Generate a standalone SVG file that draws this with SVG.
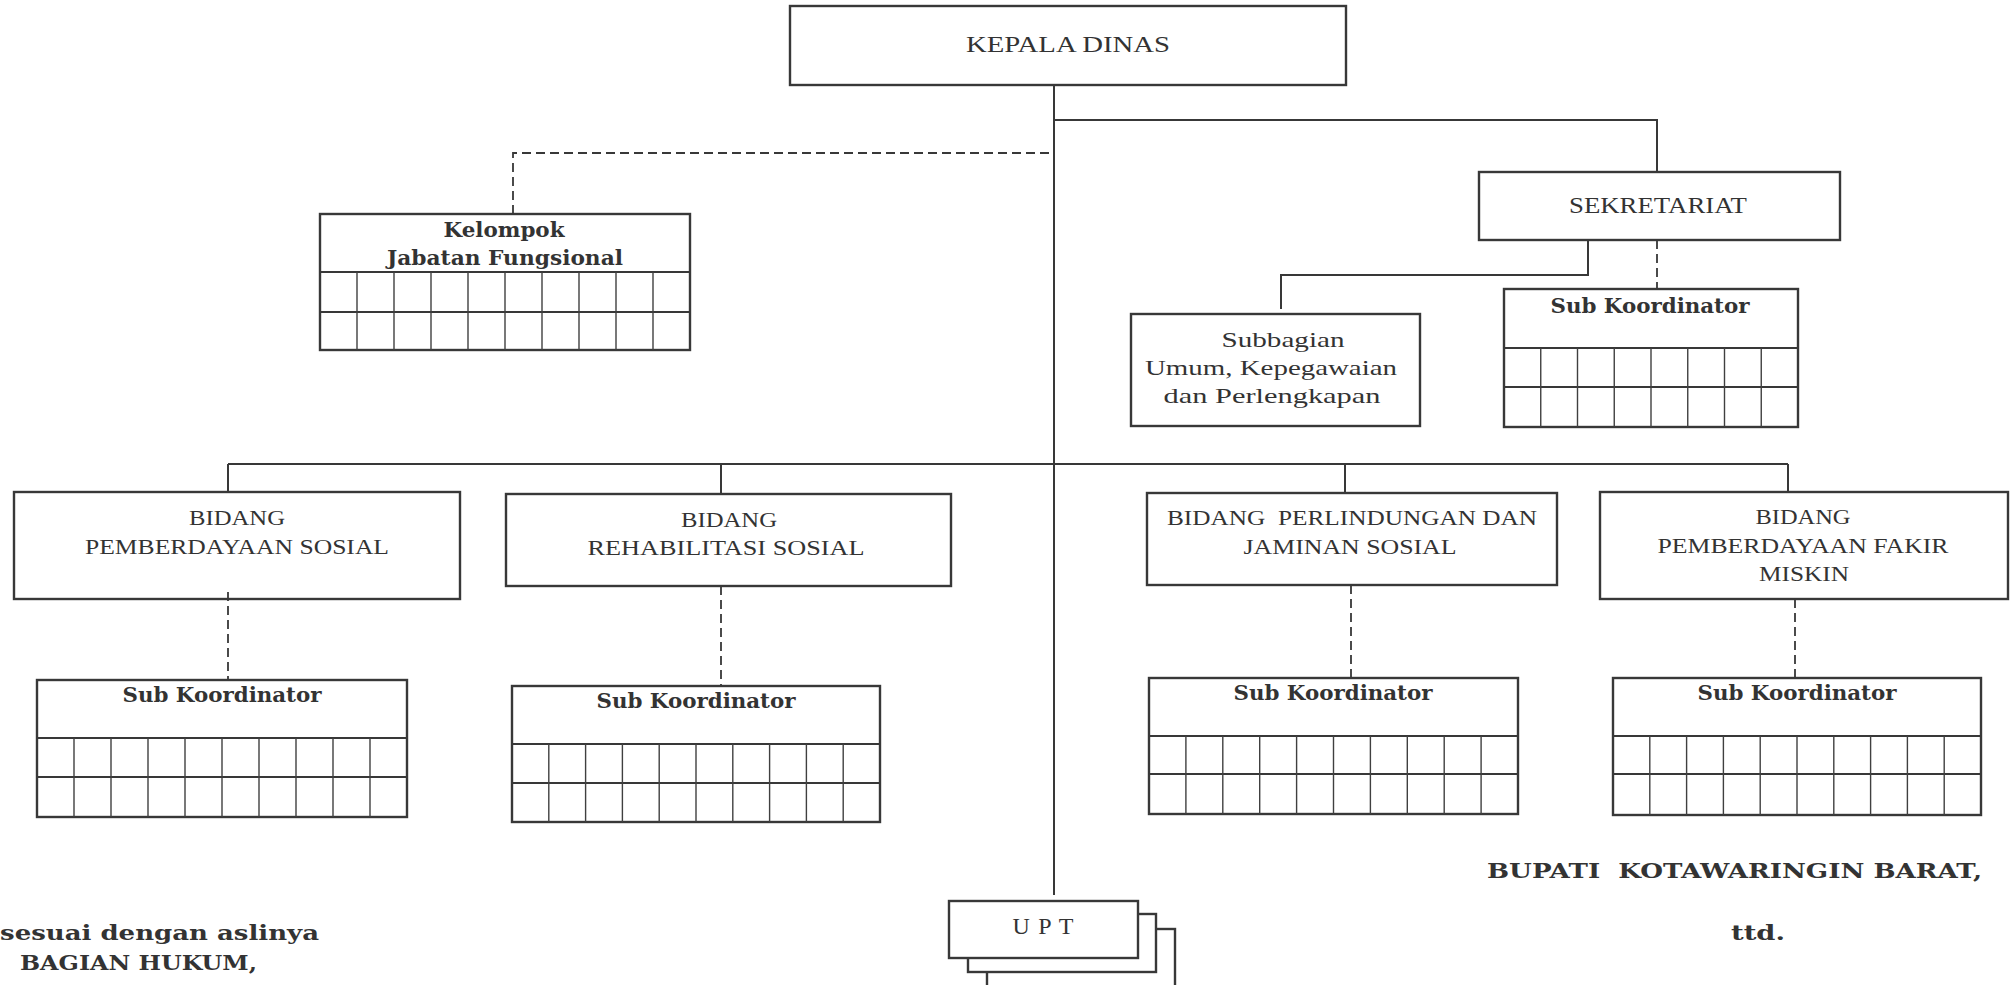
<svg xmlns="http://www.w3.org/2000/svg" width="2010" height="985" viewBox="0 0 2010 985">
<style>
.box{fill:#fff;stroke:#383838;stroke-width:2.4}
.grid{fill:none;stroke:#404040;stroke-width:1.4}
.div{fill:none;stroke:#383838;stroke-width:2}
.ln{fill:none;stroke:#383838;stroke-width:2}
.dash{fill:none;stroke:#383838;stroke-width:1.8;stroke-dasharray:9 5}
.t{font-family:"Liberation Serif","Times New Roman",serif;font-size:22px;fill:#333;text-anchor:middle;white-space:pre}
.big{font-size:24px}
.b{font-family:"DejaVu Serif","Liberation Serif",serif;font-weight:bold;font-size:20px;fill:#333;text-anchor:middle;white-space:pre}
.bs{font-family:"DejaVu Serif","Liberation Serif",serif;font-weight:bold;font-size:21px;fill:#333;white-space:pre}
</style>
<rect width="2010" height="985" fill="#fff"/>

<g id="kepala-dinas">
<rect class="box" x="790" y="6" width="556" height="79"/>
<text class="t big" x="1068" y="52" textLength="204" lengthAdjust="spacingAndGlyphs">KEPALA DINAS</text>
</g>

<g id="kelompok-jabatan-fungsional">
<rect class="box" x="320" y="214" width="370" height="136"/>
<path class="div" d="M320,272 H690 M320,312 H690"/>
<path class="grid" d="M357,272V350M394,272V350M431,272V350M468,272V350M505,272V350M542,272V350M579,272V350M616,272V350M653,272V350"/>
<text class="b" x="504" y="237" textLength="121" lengthAdjust="spacingAndGlyphs">Kelompok</text>
<text class="b" x="505" y="265" textLength="236" lengthAdjust="spacingAndGlyphs">Jabatan Fungsional</text>
</g>

<g id="sekretariat">
<rect class="box" x="1479" y="172" width="361" height="68"/>
<text class="t big" x="1658" y="213" textLength="178" lengthAdjust="spacingAndGlyphs">SEKRETARIAT</text>
</g>

<g id="subbagian-umum">
<rect class="box" x="1131" y="314" width="289" height="112"/>
<text class="t" x="1283" y="347" textLength="123" lengthAdjust="spacingAndGlyphs">Subbagian</text>
<text class="t" x="1271" y="375" textLength="252" lengthAdjust="spacingAndGlyphs">Umum, Kepegawaian</text>
<text class="t" x="1272" y="403" textLength="217" lengthAdjust="spacingAndGlyphs">dan Perlengkapan</text>
</g>

<g id="sub-koordinator-sekretariat">
<rect class="box" x="1504" y="289" width="294" height="138"/>
<path class="div" d="M1504,348 H1798 M1504,387 H1798"/>
<path class="grid" d="M1540.75,348V427M1577.5,348V427M1614.25,348V427M1651,348V427M1687.75,348V427M1724.5,348V427M1761.25,348V427"/>
<text class="b" x="1650" y="313" textLength="199" lengthAdjust="spacingAndGlyphs">Sub Koordinator</text>
</g>

<g id="bidang-pemberdayaan-sosial">
<rect class="box" x="14" y="492" width="446" height="107"/>
<text class="t" x="237" y="525" textLength="96" lengthAdjust="spacingAndGlyphs">BIDANG</text>
<text class="t" x="237" y="554" textLength="304" lengthAdjust="spacingAndGlyphs">PEMBERDAYAAN SOSIAL</text>
</g>

<g id="bidang-rehabilitasi-sosial">
<rect class="box" x="506" y="494" width="445" height="92"/>
<text class="t" x="729" y="527" textLength="96" lengthAdjust="spacingAndGlyphs">BIDANG</text>
<text class="t" x="726" y="555" textLength="277" lengthAdjust="spacingAndGlyphs">REHABILITASI SOSIAL</text>
</g>

<g id="bidang-perlindungan">
<rect class="box" x="1147" y="493" width="410" height="92"/>
<text class="t" x="1352" y="525" textLength="370" lengthAdjust="spacingAndGlyphs">BIDANG  PERLINDUNGAN DAN</text>
<text class="t" x="1350" y="554" textLength="213" lengthAdjust="spacingAndGlyphs">JAMINAN SOSIAL</text>
</g>

<g id="bidang-fakir-miskin">
<rect class="box" x="1600" y="492" width="408" height="107"/>
<text class="t" x="1803" y="524" textLength="95" lengthAdjust="spacingAndGlyphs">BIDANG</text>
<text class="t" x="1803" y="553" textLength="291" lengthAdjust="spacingAndGlyphs">PEMBERDAYAAN FAKIR</text>
<text class="t" x="1804" y="581" textLength="90" lengthAdjust="spacingAndGlyphs">MISKIN</text>
</g>

<g id="sub-koordinator-1">
<rect class="box" x="37" y="680" width="370" height="137"/>
<path class="div" d="M37,738 H407 M37,777 H407"/>
<path class="grid" d="M74,738V817M111,738V817M148,738V817M185,738V817M222,738V817M259,738V817M296,738V817M333,738V817M370,738V817"/>
<text class="b" x="222" y="702" textLength="199" lengthAdjust="spacingAndGlyphs">Sub Koordinator</text>
</g>

<g id="sub-koordinator-2">
<rect class="box" x="512" y="686" width="368" height="136"/>
<path class="div" d="M512,744 H880 M512,783 H880"/>
<path class="grid" d="M548.8,744V822M585.6,744V822M622.4,744V822M659.2,744V822M696,744V822M732.8,744V822M769.6,744V822M806.4,744V822M843.2,744V822"/>
<text class="b" x="696" y="708" textLength="199" lengthAdjust="spacingAndGlyphs">Sub Koordinator</text>
</g>

<g id="sub-koordinator-3">
<rect class="box" x="1149" y="678" width="369" height="136"/>
<path class="div" d="M1149,736 H1518 M1149,774 H1518"/>
<path class="grid" d="M1185.9,736V814M1222.8,736V814M1259.7,736V814M1296.6,736V814M1333.5,736V814M1370.4,736V814M1407.3,736V814M1444.2,736V814M1481.1,736V814"/>
<text class="b" x="1333" y="700" textLength="199" lengthAdjust="spacingAndGlyphs">Sub Koordinator</text>
</g>

<g id="sub-koordinator-4">
<rect class="box" x="1613" y="678" width="368" height="137"/>
<path class="div" d="M1613,736 H1981 M1613,774 H1981"/>
<path class="grid" d="M1649.8,736V815M1686.6,736V815M1723.4,736V815M1760.2,736V815M1797,736V815M1833.8,736V815M1870.6,736V815M1907.4,736V815M1944.2,736V815"/>
<text class="b" x="1797" y="700" textLength="199" lengthAdjust="spacingAndGlyphs">Sub Koordinator</text>
</g>

<g id="upt">
<rect class="box" x="987" y="929" width="188" height="62"/>
<rect class="box" x="968" y="914" width="188" height="58"/>
<rect class="box" x="949" y="901" width="189" height="57"/>
<text class="t big" x="1043" y="934" textLength="61" lengthAdjust="spacing">U P T</text>
</g>

<g id="connectors">
<path class="ln" d="M1054,85 V895"/>
<path class="ln" d="M1054,120 H1657 V172"/>
<path class="dash" d="M1049,153 H513 V214"/>
<path class="ln" d="M1588,240 V275 H1281 V309"/>
<path class="dash" d="M1657,240 V289"/>
<path class="ln" d="M228,464 H1788"/>
<path class="ln" d="M228,464 V492 M721,464 V494 M1345,464 V493 M1788,464 V492"/>
<path class="dash" d="M228,592 V680 M721,586 V686 M1351,585 V678 M1795,599 V678"/>
</g>

<g id="signature-texts">
<text class="bs" x="0" y="940" textLength="319" lengthAdjust="spacingAndGlyphs">sesuai dengan aslinya</text>
<text class="bs" x="20" y="970" textLength="237" lengthAdjust="spacingAndGlyphs">BAGIAN HUKUM,</text>
<text class="bs" x="1487" y="878" textLength="495" lengthAdjust="spacingAndGlyphs">BUPATI  KOTAWARINGIN BARAT,</text>
<text class="bs" x="1731" y="940" textLength="54" lengthAdjust="spacingAndGlyphs">ttd.</text>
</g>
</svg>
